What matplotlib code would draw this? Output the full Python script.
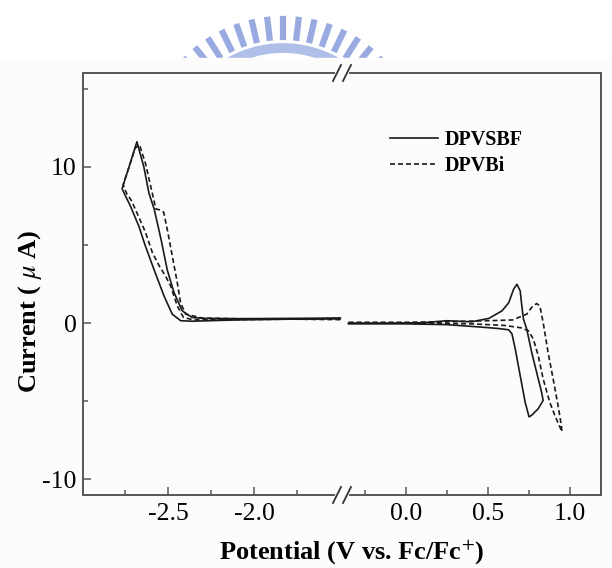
import numpy as np
import matplotlib.pyplot as plt
from matplotlib.lines import Line2D
from matplotlib.ticker import FixedLocator

plt.rcParams['font.family'] = ['Liberation Serif', 'DejaVu Serif']
plt.rcParams['mathtext.fontset'] = 'stix'

# reduction side (left panel), V vs Fc/Fc+ and current in uA
sbf_red_v = [-1.50, -1.80, -2.10, -2.30, -2.36, -2.417, -2.465, -2.504, -2.54, -2.58,
             -2.61, -2.64, -2.68, -2.72, -2.766, -2.745, -2.717, -2.669, -2.63, -2.58,
             -2.523, -2.475, -2.426, -2.36, -2.10, -1.80, -1.50]
sbf_red_i = [0.32, 0.30, 0.28, 0.30, 0.36, 0.78, 1.96, 3.40, 5.35, 7.30,
             8.30, 10.0, 11.6, 10.2, 8.6, 8.1, 7.47, 6.2, 4.9, 3.4,
             1.74, 0.57, 0.15, 0.12, 0.20, 0.25, 0.28]

bi_red_v = [-1.50, -1.80, -2.10, -2.30, -2.397, -2.427, -2.446, -2.475, -2.504, -2.525,
            -2.55, -2.57, -2.60, -2.63, -2.665, -2.69, -2.725, -2.76, -2.74, -2.71,
            -2.68, -2.63, -2.59, -2.55, -2.514, -2.484, -2.446, -2.41, -2.35, -2.10,
            -1.80, -1.50]
bi_red_i = [0.22, 0.25, 0.28, 0.32, 0.57, 1.3, 2.6, 4.3, 6.0, 7.1,
            7.25, 7.3, 8.75, 10.2, 11.4, 11.2, 10.0, 8.85, 8.3, 7.8,
            7.05, 5.8, 4.5, 3.65, 3.0, 2.37, 1.1, 0.36, 0.20, 0.22,
            0.25, 0.30]

# oxidation side (right panel)
sbf_ox_v = [-0.35, -0.10, 0.10, 0.25, 0.40, 0.506, 0.586, 0.627, 0.657, 0.677,
            0.697, 0.707, 0.717, 0.737, 0.767, 0.797, 0.827, 0.837, 0.807, 0.767,
            0.751, 0.727, 0.697, 0.667, 0.647, 0.627, 0.566, 0.45, 0.25, 0.0, -0.35]
sbf_ox_i = [0.0, 0.0, 0.02, 0.15, 0.08, 0.30, 0.78, 1.3, 2.17, 2.48,
            2.06, 1.1, 0.25, -0.38, -1.87, -3.14, -4.4, -4.95, -5.48, -5.9,
            -6.0, -5.05, -3.36, -1.66, -0.70, -0.43, -0.35, -0.25, -0.10, -0.05, -0.05]

bi_ox_v = [-0.35, 0.0, 0.30, 0.50, 0.65, 0.737, 0.767, 0.797, 0.817, 0.837,
           0.867, 0.898, 0.928, 0.948, 0.952, 0.908, 0.877, 0.837, 0.807, 0.777,
           0.747, 0.70, 0.60, 0.40, 0.10, -0.35]
bi_ox_i = [0.05, 0.05, 0.10, 0.15, 0.20, 0.57, 1.0, 1.25, 1.1, 0.04,
           -1.87, -3.57, -5.27, -6.54, -6.96, -5.9, -5.05, -3.57, -2.08, -1.02,
           -0.49, -0.30, -0.15, -0.05, 0.0, 0.0]

labels = ['DPVSBF', 'DPVBi']
left_major = [-2.5, -2.0]
left_minor = [-2.75, -2.25, -1.75]
right_major = [0.0, 0.5, 1.0]
right_minor = [-0.25, 0.25, 0.75]
y_major = [-10, 0, 10]
y_minor = [-5, 5, 15]

W, H = 612, 568
fig = plt.figure(figsize=(W / 100, H / 100), dpi=100)
fig.patch.set_facecolor('white')


def px(x, y):
    # pixel position (from top left) -> figure fraction
    return x / W, 1 - y / H


# faint blue watermark of the scanned page, covered below by the figure
cx, cy = 283, 156
for a in np.radians(np.arange(38, 143, 6.5)):
    xa, ya = px(cx + 119 * np.cos(a), cy - 119 * np.sin(a))
    xb_, yb_ = px(cx + 137 * np.cos(a), cy - 137 * np.sin(a))
    fig.add_artist(Line2D([xa, xb_], [ya, yb_], color='#98aadf', lw=4.5,
                          transform=fig.transFigure, zorder=0))
t = np.radians(np.linspace(40, 140, 60))
arc = [px(cx + 108 * np.cos(a), cy - 108 * np.sin(a)) for a in t]
fig.add_artist(Line2D([p[0] for p in arc], [p[1] for p in arc], color='#b0bfe8',
                      lw=7, transform=fig.transFigure, zorder=0))
fig.add_artist(plt.Rectangle((0, 0), 1, 1 - 58 / H, color='#fcfcfc',
                             transform=fig.transFigure, zorder=0.5))

x0, xb, x1 = 83.5 / W, 342 / W, 601 / W
y0, y1 = 1 - 495 / H, 1 - 73 / H
axL = fig.add_axes([x0, y0, xb - x0, y1 - y0])
axR = fig.add_axes([xb, y0, x1 - xb, y1 - y0], sharey=axL)
axL.set_zorder(1)
axR.set_zorder(1)

line_c = '#1a1a1a'
spine_c = '#555555'
solid = dict(color=line_c, lw=1.2, ls='-')
dashed = dict(color=line_c, lw=1.2, ls=(0, (3.0, 1.8)))

axL.plot(sbf_red_v, sbf_red_i, **solid)
axL.plot(bi_red_v, bi_red_i, **dashed)
axR.plot(sbf_ox_v, sbf_ox_i, **solid)
axR.plot(bi_ox_v, bi_ox_i, **dashed)

axL.set_xlim(-2.99, -1.49)
axR.set_xlim(-0.39, 1.19)
axL.set_ylim(-11, 16)

for ax in (axL, axR):
    ax.set_facecolor('#fcfcfc')
    for s in ax.spines.values():
        s.set_color(spine_c)
        s.set_linewidth(1.4)
    ax.tick_params(which='both', direction='in', color=spine_c, width=1.1,
                   labelsize=18.5, pad=6)
    ax.tick_params(which='major', length=6)
    ax.tick_params(which='minor', length=3.5)
    ax.tick_params(axis='x', which='both', top=False)

axL.spines['right'].set_visible(False)
axR.spines['left'].set_visible(False)
axR.tick_params(axis='y', which='both', left=False, right=False, labelleft=False)

axL.xaxis.set_major_locator(FixedLocator(left_major))
axL.xaxis.set_minor_locator(FixedLocator(left_minor))
axR.xaxis.set_major_locator(FixedLocator(right_major))
axR.xaxis.set_minor_locator(FixedLocator(right_minor))
axL.yaxis.set_major_locator(FixedLocator(y_major))
axL.yaxis.set_minor_locator(FixedLocator(y_minor))
axL.xaxis.set_major_formatter(lambda v, p: f'{v:.1f}')
axR.xaxis.set_major_formatter(lambda v, p: f'{v:.1f}')
axL.yaxis.set_major_formatter(lambda v, p: f'{v:.0f}')
axL.tick_params(axis='y', pad=5)

# break marks on top and bottom spines
for yf in (y0, y1):
    fig.add_artist(Line2D([xb - 5 / W, xb + 5 / W], [yf, yf], color='#fcfcfc',
                          lw=3, transform=fig.transFigure, zorder=3))
    for dx in (-5, 5):
        fig.add_artist(Line2D([xb + (dx - 4) / W, xb + (dx + 4) / W],
                              [yf - 8 / H, yf + 8 / H], color='#333333',
                              lw=1.3, transform=fig.transFigure, zorder=3))

fig.text(352 / W, 1 - 552 / H, 'Potential (V vs. Fc/Fc$^{+}$)', ha='center',
         va='center', fontsize=19, fontweight='bold', zorder=3)
fig.text(30 / W, 1 - 311 / H, 'Current ( $\\mu$ A)', ha='center', va='center',
         rotation=90, fontsize=19, fontweight='bold', zorder=3)

handles = [Line2D([], [], **solid), Line2D([], [], **dashed)]
leg = fig.legend(handles, labels, loc='upper left',
                 bbox_to_anchor=(390 / W, 1 - 130 / H), frameon=False,
                 prop=dict(size=14.5, weight='bold'), handlelength=2.4,
                 handletextpad=0.3, labelspacing=0.3, borderpad=0, borderaxespad=0)
leg.set_zorder(3)

fig.savefig('out.png', dpi=100)
